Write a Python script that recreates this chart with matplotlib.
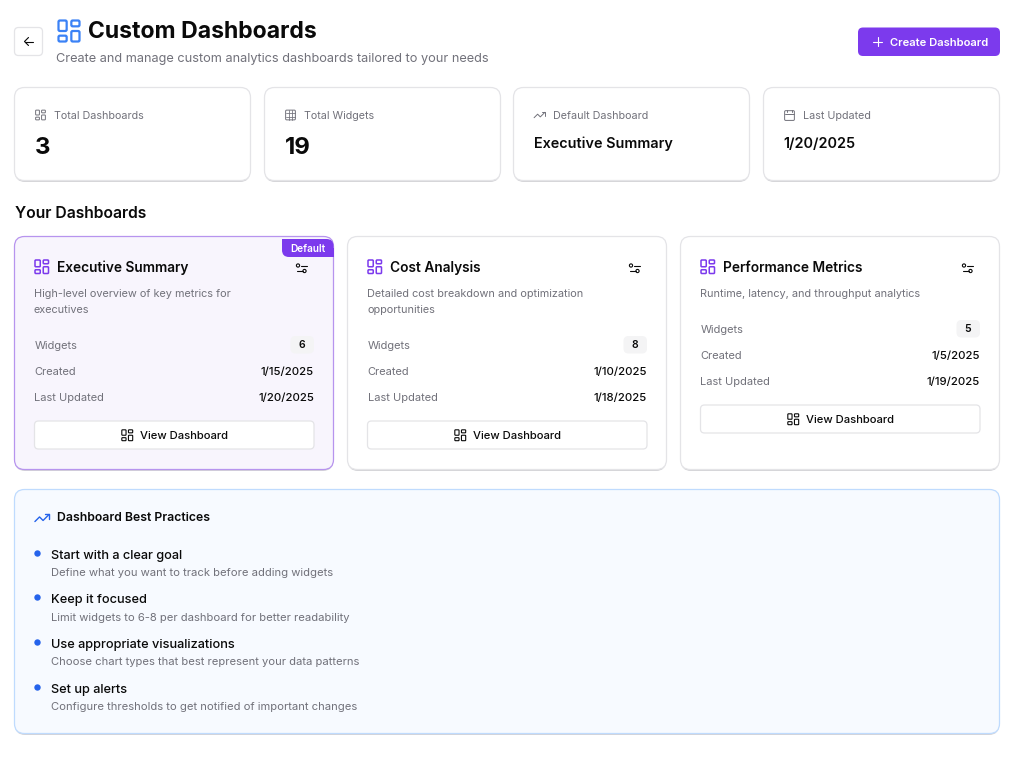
#imports
import matplotlib
matplotlib.use('Agg')
import matplotlib.pyplot as plt
from matplotlib.patches import FancyBboxPatch, Circle, Rectangle

plt.rcParams['font.family'] = ['Inter', 'DejaVu Sans']

# content
pageTitle = 'Custom Dashboards'
pageSubtitle = 'Create and manage custom analytics dashboards tailored to your needs'
createLabel = 'Create Dashboard'
statLabels = ['Total Dashboards', 'Total Widgets', 'Default Dashboard', 'Last Updated']
statValues = ['3', '19', 'Executive Summary', '1/20/2025']
statIcons = ['grid', 'table', 'trend', 'calendar']
sectionTitle = 'Your Dashboards'
dashNames = ['Executive Summary', 'Cost Analysis', 'Performance Metrics']
dashDescs = [['High-level overview of key metrics for', 'executives'],
             ['Detailed cost breakdown and optimization', 'opportunities'],
             ['Runtime, latency, and throughput analytics']]
dashWidgets = [6, 8, 5]
dashCreated = ['1/15/2025', '1/10/2025', '1/5/2025']
dashUpdated = ['1/20/2025', '1/18/2025', '1/19/2025']
tipsTitle = 'Dashboard Best Practices'
tipHeads = ['Start with a clear goal', 'Keep it focused', 'Use appropriate visualizations', 'Set up alerts']
tipBodies = ['Define what you want to track before adding widgets',
             'Limit widgets to 6-8 per dashboard for better readability',
             'Choose chart types that best represent your data patterns',
             'Configure thresholds to get notified of important changes']

BLACK = '#0a0a0a'
GREY = '#71717a'
PURPLE = '#7c3aed'
BLUE = '#2563eb'

def px(size):
    # css px to points at dpi 100
    return size * 0.72

def box(ax, x0, y0, x1, y1, r, fc='white', ec='#e4e4e7', lw=1.0, z=2):
    p = FancyBboxPatch((x0 + r, y0 + r), x1 - x0 - 2 * r, y1 - y0 - 2 * r,
                       boxstyle=f'round,pad={r},rounding_size={r}', fc=fc, ec=ec, lw=lw, zorder=z)
    ax.add_patch(p)

def card(ax, x0, y0, x1, y1, r=10, fc='white', ec='#e4e4e7'):
    # soft shadow under the card
    box(ax, x0 + 0.5, y0 + 2, x1 - 0.5, y1 + 1.5, r, fc='#d4d4d8', ec='none', lw=0, z=1)
    box(ax, x0, y0, x1, y1, r, fc=fc, ec=ec, lw=0.9, z=2)

def text(ax, x, y, s, size, color=BLACK, weight='normal', ha='left', va='center_baseline'):
    ax.text(x, y, s, fontsize=px(size), color=color, fontweight=weight, ha=ha, va=va, zorder=6)

def line(ax, xs, ys, color, lw=1.0):
    ax.plot(xs, ys, color=color, lw=lw, solid_capstyle='round', solid_joinstyle='round', zorder=6)

def gridIcon(ax, x, y, s, color, lw=1.0):
    # four rounded tiles, tall/short like the lucide layout icon; x, y is the top left
    k = s / 24
    for (a, b, w, h) in [(3, 3, 7, 9), (14, 3, 7, 5), (14, 12, 7, 9), (3, 16, 7, 5)]:
        box(ax, x + a * k, y + b * k, x + (a + w) * k, y + (b + h) * k, 1.2 * k, fc='none', ec=color, lw=lw, z=6)

def trendIcon(ax, x, y, s, color, lw=1.0):
    k = s / 24
    line(ax, [x + 2 * k, x + 8.5 * k, x + 13.5 * k, x + 22 * k], [y + 17 * k, y + 10.5 * k, y + 15.5 * k, y + 7 * k], color, lw)
    line(ax, [x + 16 * k, x + 22 * k, x + 22 * k], [y + 7 * k, y + 7 * k, y + 13 * k], color, lw)

def tableIcon(ax, x, y, s, color, lw=0.9):
    k = s / 24
    box(ax, x + 3 * k, y + 3 * k, x + 21 * k, y + 21 * k, 2 * k, fc='none', ec=color, lw=lw, z=6)
    for t in [9, 15]:
        line(ax, [x + t * k, x + t * k], [y + 3 * k, y + 21 * k], color, lw * 0.8)
        line(ax, [x + 3 * k, x + 21 * k], [y + t * k, y + t * k], color, lw * 0.8)

def calendarIcon(ax, x, y, s, color, lw=0.9):
    k = s / 24
    box(ax, x + 3 * k, y + 4 * k, x + 21 * k, y + 22 * k, 2 * k, fc='none', ec=color, lw=lw, z=6)
    line(ax, [x + 3 * k, x + 21 * k], [y + 10 * k, y + 10 * k], color, lw)
    for t in [8, 16]:
        line(ax, [x + t * k, x + t * k], [y + 2 * k, y + 6 * k], color, lw)

def slidersIcon(ax, x, y, color=BLACK, lw=0.8):
    # two slider rows with a small knob on each
    line(ax, [x + 5, x + 11], [y + 2.5, y + 2.5], color, lw)
    line(ax, [x + 1, x + 7], [y + 8, y + 8], color, lw)
    ax.add_patch(Circle((x + 2.5, y + 2.5), 1.6, fc='none', ec=color, lw=lw, zorder=6))
    ax.add_patch(Circle((x + 9, y + 8), 1.6, fc='none', ec=color, lw=lw, zorder=6))

fig = plt.figure(figsize=(10.16, 7.69), dpi=100, facecolor='white')
ax = fig.add_axes([0, 0, 1, 1])
ax.set_xlim(0, 1016)
ax.set_ylim(769, 0)
ax.axis('off')

# header
box(ax, 14.5, 27.5, 42.5, 55.5, 4, ec='#e4e4e7', lw=0.9)
line(ax, [24.5, 33], [41.5, 41.5], BLACK, 0.8)
line(ax, [28.5, 24.5, 28.5], [37.5, 41.5, 45.5], BLACK, 0.8)
gridIcon(ax, 55, 17, 28, '#3b82f6', lw=1.6)
text(ax, 88, 30, pageTitle, 23, weight='bold')
text(ax, 56, 57.5, pageSubtitle, 12.75, GREY)
box(ax, 858, 27.5, 1000, 56, 5, fc=PURPLE, ec=PURPLE, lw=0)
line(ax, [873, 882], [41.5, 41.5], 'white', 0.8)
line(ax, [877.5, 877.5], [37, 46], 'white', 0.8)
text(ax, 890, 42, createLabel, 11.2, 'white', 'semibold')

# stat cards
statX = [14.5, 264.5, 513.5, 763.5]
iconFns = {'grid': gridIcon, 'table': tableIcon, 'trend': trendIcon, 'calendar': calendarIcon}
for x, label, value, icon in zip(statX, statLabels, statValues, statIcons):
    card(ax, x, 87.5, x + 236, 180.5)
    iconFns[icon](ax, x + 19.5, 108.5, 13, GREY, lw=0.7)
    text(ax, x + 39.5, 115, label, 10.75, GREY)
    if len(value) < 3:
        text(ax, x + 20, 145.5, value, 24, weight='bold')
    else:
        text(ax, x + 20, 142.5, value, 14.4, weight='semibold')

# dashboards
text(ax, 15, 212.5, sectionTitle, 15.7, weight='semibold')
dashX = [14.5, 347.5, 680.5]
for i, name in enumerate(dashNames):
    x = dashX[i]
    isDefault = i == 0
    if isDefault:
        card(ax, x, 236.5, x + 319, 469.5, fc='#f8f5fd', ec='#b794ee')
    else:
        card(ax, x, 236.5, x + 319, 469.5)
    gridIcon(ax, x + 18.25, 257.75, 18, PURPLE, lw=1.1)
    text(ax, x + 42.5, 272, name, 13.7, weight='semibold', va='baseline')
    slidersIcon(ax, x + 281, 263)
    yy = 293
    for row in dashDescs[i]:
        text(ax, x + 19.5, yy, row, 10.9, GREY)
        yy += 16
    # rows shift up when the description has only one line
    y0 = 345 if len(dashDescs[i]) == 2 else 329
    text(ax, x + 20, y0, 'Widgets', 11.1, GREY)
    box(ax, x + 276, y0 - 9, x + 299.5, y0 + 8.5, 5, fc='#f4f4f5', ec='#f4f4f5', lw=0)
    text(ax, x + 287.5, y0 - 1, str(dashWidgets[i]), 10.5, weight='semibold', ha='center')
    text(ax, x + 20, y0 + 26, 'Created', 11.1, GREY)
    text(ax, x + 299.5, y0 + 26, dashCreated[i], 11.35, weight='medium', ha='right')
    text(ax, x + 20, y0 + 52, 'Last Updated', 11.1, GREY)
    text(ax, x + 299.5, y0 + 52, dashUpdated[i], 11.35, weight='medium', ha='right')
    box(ax, x + 20, y0 + 76, x + 299.5, y0 + 104, 4, ec='#e4e4e7', lw=0.9)
    gridIcon(ax, x + 105.5, y0 + 83, 14.5, BLACK, lw=0.8)
    text(ax, x + 125.5, y0 + 90, 'View Dashboard', 11.2, weight='medium')

# default ribbon sits on the corner of the first card
box(ax, 282, 239, 333.5, 257, 7, fc=PURPLE, ec='none', lw=0, z=3)
ax.add_patch(Rectangle((322, 248), 11.5, 9, fc=PURPLE, ec='none', lw=0, zorder=3))
ax.add_patch(Rectangle((282, 239), 12, 8, fc=PURPLE, ec='none', lw=0, zorder=3))
text(ax, 308, 247.5, 'Default', 10, 'white', 'semibold', ha='center')

# best practices
card(ax, 14.5, 489.5, 999.5, 733.5, fc='#f7faff', ec='#bfdbfe')
trendIcon(ax, 33.5, 509.5, 17, BLUE, lw=1.0)
text(ax, 57, 516.5, tipsTitle, 12.2, weight='semibold')
headY = [554.5, 598.5, 643.5, 688.5]
bodyY = [572, 617, 661, 706]
for head, body, hy, by in zip(tipHeads, tipBodies, headY, bodyY):
    ax.add_patch(Circle((37.5, hy - 1), 3.2, fc=BLUE, ec='none', zorder=6))
    text(ax, 51, hy, head, 12.75, weight='medium')
    text(ax, 51, by, body, 11.2, GREY)

fig.savefig('out.png', dpi=100, facecolor='white')
